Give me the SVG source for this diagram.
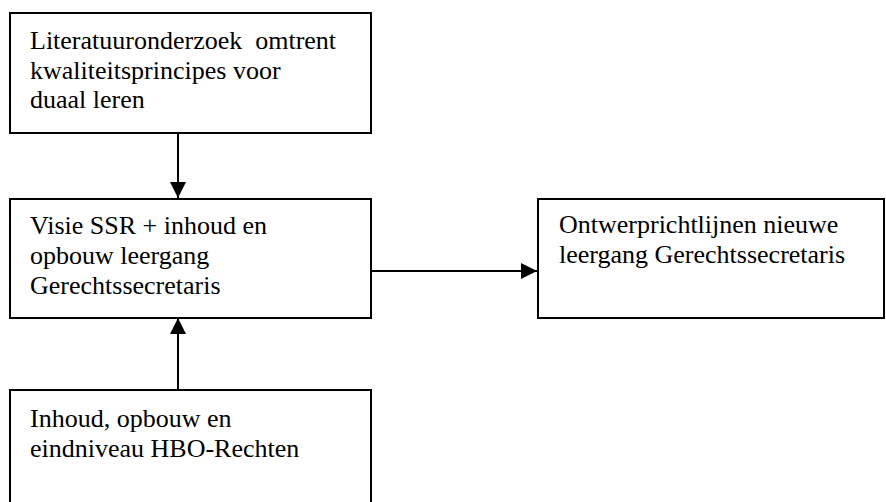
<svg xmlns="http://www.w3.org/2000/svg" width="886" height="502" viewBox="0 0 886 502">
<style>
.box{fill:#fff;stroke:#000;stroke-width:2}
.t{font-family:'Liberation Serif','DejaVu Serif',serif;font-size:26px;fill:#000}
.c{stroke:#000;stroke-width:2;fill:none}
</style>
<defs>
<marker id="ah" markerUnits="userSpaceOnUse" markerWidth="16" markerHeight="16" viewBox="0 0 16 16" refX="16" refY="8" orient="auto">
<path d="M0,0 L16,8 L0,16 Z" fill="#000"/>
</marker>
</defs>
<g id="connectors">
<line class="c" x1="178" y1="133" x2="178" y2="198" marker-end="url(#ah)"/>
<line class="c" x1="178" y1="390" x2="178" y2="318" marker-end="url(#ah)"/>
<line class="c" x1="371" y1="271" x2="537" y2="271" marker-end="url(#ah)"/>
</g>
<g id="n1">
<rect class="box" x="10" y="13" width="361" height="120"/>
<text class="t" x="30" y="49" xml:space="preserve">Literatuuronderzoek  omtrent</text>
<text class="t" x="30" y="79">kwaliteitsprincipes voor</text>
<text class="t" x="30" y="108">duaal leren</text>
</g>
<g id="n2">
<rect class="box" x="10" y="199" width="361" height="119"/>
<text class="t" x="30" y="234">Visie SSR + inhoud en</text>
<text class="t" x="30" y="264">opbouw leergang</text>
<text class="t" x="30" y="294">Gerechtssecretaris</text>
</g>
<g id="n3">
<rect class="box" x="538" y="199" width="346" height="119"/>
<text class="t" x="559" y="233">Ontwerprichtlijnen nieuwe</text>
<text class="t" x="559" y="263">leergang Gerechtssecretaris</text>
</g>
<g id="n4">
<rect class="box" x="10" y="390" width="361" height="120"/>
<text class="t" x="30" y="427">Inhoud, opbouw en</text>
<text class="t" x="30" y="457">eindniveau HBO-Rechten</text>
</g>
</svg>
